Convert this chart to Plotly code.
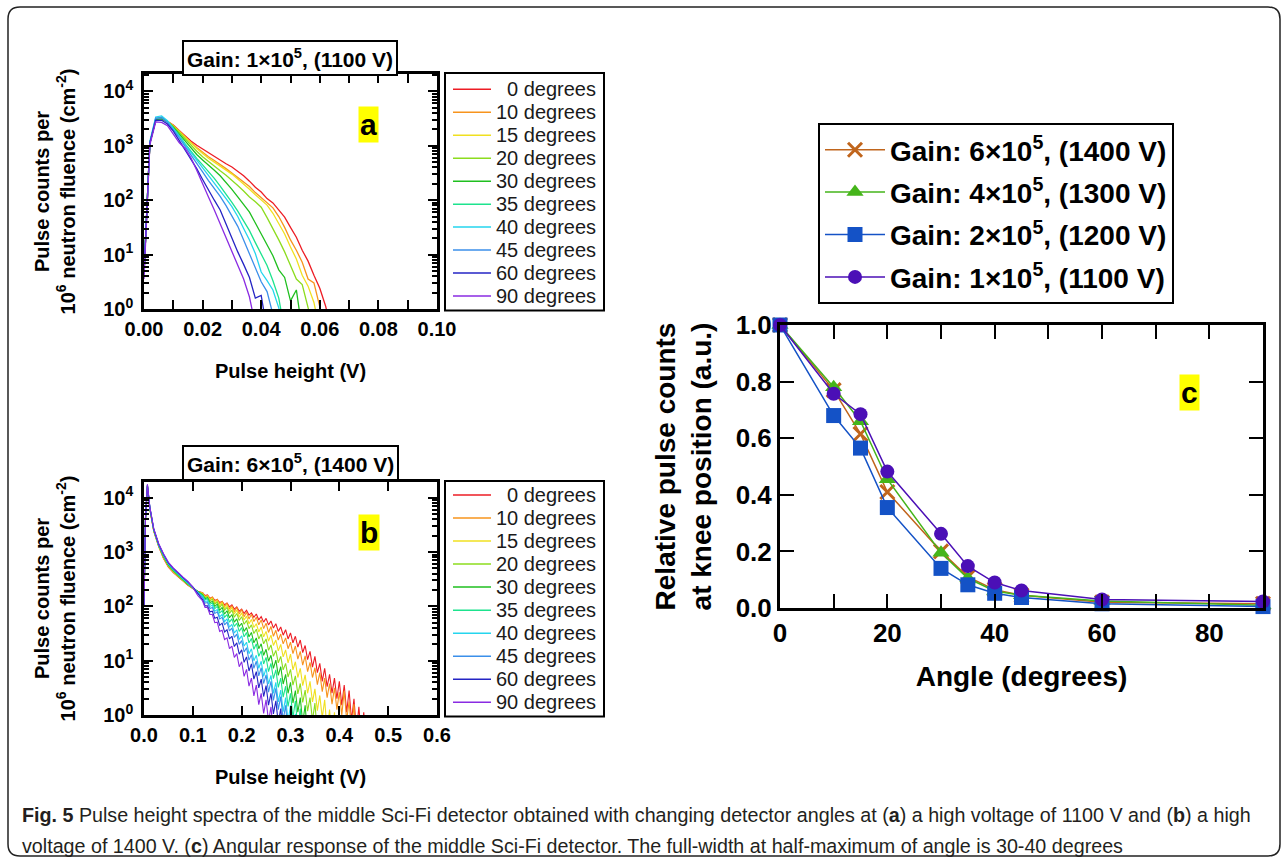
import plotly.graph_objects as go

W, H = 1287, 860
FONT = "Liberation Sans, Arial, sans-serif"

# ---------------- data ----------------
ANGLES = ["0", "10", "15", "20", "30", "35", "40", "45", "60", "90"]

# Panel a (1100 V): pulse height grid (V) and log10(counts)
PH_A = [0.000, 0.002, 0.004, 0.006, 0.008, 0.010, 0.012, 0.014, 0.016, 0.018, 0.020,
        0.022, 0.024, 0.026, 0.028, 0.030, 0.032, 0.034, 0.036, 0.038, 0.040, 0.042,
        0.044, 0.046, 0.048, 0.050, 0.052, 0.054, 0.056, 0.058, 0.060, 0.062, 0.064]
A_0 = [0.65, 3.05, 3.48, 3.50, 3.45, 3.38, 3.28, 3.18, 3.09, 3.01, 2.94, 2.87, 2.80, 2.74, 2.67,
       2.61, 2.53, 2.45, 2.35, 2.24, 2.15, 2.03, 1.95, 1.83, 1.69, 1.50, 1.32, 1.08, 0.88, 0.62,
       0.38, 0.05, -0.4]
A_10 = [0.65, 3.05, 3.47, 3.49, 3.45, 3.37, 3.27, 3.16, 3.06, 2.97, 2.88, 2.80, 2.73, 2.66, 2.58,
        2.50, 2.42, 2.34, 2.25, 2.14, 2.05, 1.96, 1.86, 1.70, 1.50, 1.27, 1.08, 0.86, 0.55, 0.48,
        0.05, -0.4]
A_15 = [0.65, 3.05, 3.47, 3.49, 3.45, 3.37, 3.27, 3.16, 3.05, 2.95, 2.86, 2.77, 2.70, 2.63, 2.56,
        2.48, 2.39, 2.30, 2.20, 2.10, 2.01, 1.91, 1.76, 1.58, 1.38, 1.14, 0.92, 0.62, 0.42, 0.12,
        -0.4]
A_20 = [0.65, 3.05, 3.47, 3.50, 3.45, 3.36, 3.25, 3.13, 3.01, 2.90, 2.80, 2.71, 2.62, 2.54, 2.46,
        2.37, 2.27, 2.17, 2.06, 1.97, 1.87, 1.68, 1.48, 1.27, 1.05, 0.80, 0.55, 0.45, 0.05, -0.4]
A_30 = [0.65, 3.05, 3.48, 3.50, 3.44, 3.34, 3.22, 3.09, 2.96, 2.84, 2.74, 2.65, 2.55, 2.45, 2.33,
        2.20, 2.06, 1.93, 1.78, 1.58, 1.38, 1.18, 0.98, 0.72, 0.58, 0.15, 0.35, -0.4]
A_35 = [0.65, 3.05, 3.50, 3.52, 3.45, 3.33, 3.19, 3.04, 2.90, 2.77, 2.65, 2.53, 2.40, 2.26, 2.12,
        1.96, 1.80, 1.62, 1.44, 1.22, 1.02, 0.80, 0.52, 0.20, -0.4]
A_40 = [0.65, 3.08, 3.53, 3.55, 3.46, 3.33, 3.18, 3.02, 2.88, 2.74, 2.61, 2.46, 2.32, 2.17, 2.03,
        1.88, 1.70, 1.48, 1.27, 1.02, 0.68, 0.52, 0.35, 0.02, -0.4]
A_45 = [0.65, 3.05, 3.51, 3.52, 3.43, 3.30, 3.15, 2.99, 2.84, 2.68, 2.52, 2.36, 2.22, 2.07, 1.90,
        1.72, 1.52, 1.27, 1.02, 0.75, 0.50, 0.32, -0.1, -0.4]
A_60 = [0.65, 3.05, 3.47, 3.47, 3.40, 3.27, 3.10, 2.93, 2.76, 2.58, 2.38, 2.18, 2.00, 1.82, 1.56,
        1.28, 1.05, 0.82, 0.58, 0.20, 0.25, -0.4]
A_90 = [0.55, 3.02, 3.44, 3.43, 3.37, 3.22, 3.06, 2.95, 2.78, 2.55, 2.32, 2.06, 1.82, 1.56, 1.30,
        1.06, 0.80, 0.55, 0.22, -0.3]

# Panel b (1400 V): pulse height grid (V) and log10(counts)
PH_B = [0.0, 0.003, 0.007, 0.012, 0.02, 0.03, 0.04, 0.05, 0.06, 0.07, 0.08, 0.09, 0.10, 0.11,
        0.120, 0.125, 0.130, 0.135, 0.140, 0.145, 0.150, 0.155, 0.160, 0.165, 0.170, 0.175,
        0.180, 0.185, 0.190, 0.195, 0.200, 0.205, 0.210, 0.215, 0.220, 0.225, 0.230, 0.235,
        0.240, 0.245, 0.250, 0.255, 0.260, 0.265, 0.270, 0.275, 0.280, 0.285, 0.290, 0.295,
        0.300, 0.305, 0.310, 0.315, 0.320, 0.325, 0.330, 0.335, 0.340, 0.345, 0.350, 0.355,
        0.360, 0.365, 0.370, 0.375, 0.380, 0.385, 0.390, 0.395, 0.400, 0.405, 0.410, 0.415,
        0.420, 0.425, 0.430, 0.435, 0.440, 0.445, 0.450, 0.455, 0.460, 0.465, 0.470]
B_0 = [2.0, 3.58, 4.20, 3.78, 3.38, 3.10, 2.88, 2.72, 2.62, 2.54, 2.46, 2.39, 2.33, 2.28,
       2.25, 2.20, 2.21, 2.15, 2.17, 2.11, 2.13, 2.07, 2.09, 2.03, 2.06, 1.99, 2.03, 1.95, 1.99,
       1.91, 1.95, 1.87, 1.93, 1.84, 1.88, 1.80, 1.86, 1.75, 1.81, 1.71, 1.78, 1.66, 1.73, 1.60,
       1.68, 1.54, 1.62, 1.47, 1.57, 1.40, 1.51, 1.33, 1.45, 1.25, 1.38, 1.15, 1.28, 1.02, 1.17,
       0.88, 1.08, 0.78, 0.95, 0.62, 0.86, 0.52, 0.75, 0.40, 0.68, 0.30, 0.62, 0.18, 0.55, 0.05,
       0.45, -0.1, 0.30, -0.3, 0.15, -0.4, 0.05, -0.5, 0.0, -0.6]
B_10 = [2.0, 3.59, 4.21, 3.79, 3.39, 3.11, 2.89, 2.73, 2.63, 2.55, 2.47, 2.40, 2.33, 2.27,
        2.25, 2.18, 2.20, 2.14, 2.17, 2.09, 2.13, 2.05, 2.09, 2.00, 2.06, 1.95, 2.01, 1.90, 1.98,
        1.86, 1.94, 1.81, 1.89, 1.77, 1.85, 1.72, 1.80, 1.66, 1.75, 1.59, 1.69, 1.52, 1.63, 1.45,
        1.56, 1.38, 1.49, 1.31, 1.42, 1.22, 1.34, 1.13, 1.27, 1.03, 1.17, 0.92, 1.09, 0.80, 0.97,
        0.69, 0.87, 0.56, 0.78, 0.43, 0.68, 0.32, 0.58, 0.20, 0.50, 0.10, 0.42, 0.0, 0.45, -0.1,
        0.25, -0.3, 0.20, -0.5, 0.0, -0.6]
B_15 = [2.0, 3.59, 4.21, 3.79, 3.39, 3.11, 2.90, 2.74, 2.64, 2.55, 2.47, 2.40, 2.33, 2.27,
        2.24, 2.17, 2.19, 2.12, 2.15, 2.06, 2.10, 2.01, 2.07, 1.96, 2.02, 1.91, 1.98, 1.86, 1.93,
        1.80, 1.88, 1.75, 1.82, 1.68, 1.76, 1.61, 1.68, 1.53, 1.62, 1.44, 1.54, 1.36, 1.47, 1.28,
        1.38, 1.18, 1.30, 1.07, 1.20, 0.96, 1.12, 0.83, 0.98, 0.69, 0.86, 0.54, 0.74, 0.40, 0.62,
        0.24, 0.48, 0.08, 0.36, -0.05, 0.28, -0.3, 0.10, -0.5, 0.05, -0.6]
B_20 = [2.0, 3.60, 4.22, 3.80, 3.40, 3.12, 2.91, 2.75, 2.65, 2.56, 2.48, 2.40, 2.33, 2.27,
        2.23, 2.16, 2.18, 2.10, 2.13, 2.04, 2.08, 1.98, 2.04, 1.93, 1.98, 1.87, 1.93, 1.80, 1.87,
        1.74, 1.81, 1.67, 1.74, 1.59, 1.66, 1.50, 1.58, 1.40, 1.49, 1.31, 1.40, 1.19, 1.29, 1.08,
        1.19, 0.96, 1.08, 0.83, 0.95, 0.70, 0.84, 0.55, 0.72, 0.39, 0.58, 0.23, 0.46, 0.07, 0.32,
        -0.1, 0.22, -0.35, 0.0, -0.6]
B_30 = [2.0, 3.60, 4.22, 3.80, 3.40, 3.12, 2.92, 2.76, 2.66, 2.57, 2.49, 2.41, 2.34, 2.27,
        2.21, 2.14, 2.16, 2.07, 2.09, 2.00, 2.04, 1.93, 1.98, 1.86, 1.92, 1.79, 1.85, 1.71, 1.77,
        1.63, 1.69, 1.54, 1.61, 1.44, 1.52, 1.33, 1.42, 1.22, 1.31, 1.10, 1.21, 0.99, 1.10, 0.86,
        1.01, 0.73, 0.89, 0.57, 0.75, 0.40, 0.60, 0.22, 0.45, 0.05, 0.32, -0.15, 0.18, -0.4, 0.0,
        -0.6]
B_35 = [2.0, 3.61, 4.22, 3.81, 3.41, 3.13, 2.93, 2.77, 2.67, 2.58, 2.50, 2.42, 2.34, 2.26,
        2.20, 2.12, 2.14, 2.04, 2.06, 1.96, 2.00, 1.88, 1.92, 1.80, 1.85, 1.71, 1.77, 1.63, 1.69,
        1.54, 1.61, 1.44, 1.52, 1.33, 1.41, 1.21, 1.31, 1.08, 1.18, 0.94, 1.06, 0.80, 0.95, 0.67,
        0.83, 0.51, 0.68, 0.33, 0.53, 0.16, 0.40, -0.05, 0.26, -0.25, 0.12, -0.5, 0.0, -0.6]
B_40 = [2.0, 3.61, 4.23, 3.81, 3.41, 3.13, 2.94, 2.78, 2.68, 2.59, 2.51, 2.43, 2.35, 2.26,
        2.18, 2.09, 2.10, 2.00, 2.02, 1.91, 1.94, 1.81, 1.85, 1.72, 1.77, 1.62, 1.67, 1.51, 1.57,
        1.39, 1.46, 1.27, 1.34, 1.13, 1.22, 1.00, 1.10, 0.86, 0.99, 0.71, 0.86, 0.57, 0.73, 0.40,
        0.60, 0.24, 0.46, 0.06, 0.32, -0.12, 0.18, -0.4, 0.02, -0.6]
B_45 = [2.0, 3.62, 4.23, 3.82, 3.42, 3.14, 2.95, 2.79, 2.69, 2.60, 2.52, 2.44, 2.35, 2.25,
        2.16, 2.06, 2.07, 1.96, 1.98, 1.87, 1.90, 1.77, 1.80, 1.66, 1.71, 1.55, 1.60, 1.43, 1.49,
        1.30, 1.37, 1.16, 1.24, 1.01, 1.11, 0.86, 0.99, 0.72, 0.87, 0.58, 0.74, 0.42, 0.62, 0.27,
        0.49, 0.10, 0.34, -0.1, 0.18, -0.35, 0.03, -0.6]
B_60 = [2.0, 3.62, 4.24, 3.82, 3.42, 3.15, 2.96, 2.80, 2.70, 2.61, 2.53, 2.45, 2.36, 2.24,
        2.12, 2.01, 2.01, 1.90, 1.91, 1.78, 1.80, 1.65, 1.69, 1.53, 1.57, 1.40, 1.45, 1.26, 1.33,
        1.12, 1.20, 0.97, 1.07, 0.81, 0.94, 0.66, 0.80, 0.50, 0.66, 0.34, 0.54, 0.18, 0.40, 0.02,
        0.26, -0.15, 0.12, -0.4, -0.02, -0.6]
B_90 = [2.0, 3.63, 4.25, 3.83, 3.43, 3.16, 2.97, 2.81, 2.71, 2.62, 2.54, 2.46, 2.35, 2.20,
        2.10, 1.98, 1.98, 1.85, 1.85, 1.70, 1.71, 1.54, 1.56, 1.39, 1.42, 1.22, 1.27, 1.06, 1.13,
        0.89, 0.98, 0.71, 0.84, 0.53, 0.68, 0.35, 0.55, 0.19, 0.40, 0.03, 0.28, -0.12, 0.15,
        -0.35, 0.0, -0.6]

# Panel c: relative pulse counts at knee position vs angle
ANGLE_C = [0, 10, 15, 20, 30, 35, 40, 45, 60, 90]
C_6E5 = [1.0, 0.77, 0.615, 0.41, 0.20, 0.11, 0.065, 0.045, 0.020, 0.015]
C_4E5 = [1.0, 0.78, 0.660, 0.455, 0.195, 0.105, 0.060, 0.045, 0.025, 0.010]
C_2E5 = [1.0, 0.68, 0.565, 0.355, 0.140, 0.082, 0.052, 0.037, 0.015, 0.005]
C_1E5 = [1.0, 0.757, 0.685, 0.482, 0.262, 0.148, 0.090, 0.062, 0.030, 0.023]
GAIN_NAMES = ["Gain: 6×10<sup>5</sup>, (1400 V)", "Gain: 4×10<sup>5</sup>, (1300 V)",
              "Gain: 2×10<sup>5</sup>, (1200 V)", "Gain: 1×10<sup>5</sup>, (1100 V)"]

# ---------------- styling ----------------
COLORS = ["#ED1C24", "#F7941D", "#F0E020", "#8CDC1E", "#1FBF1F", "#1DE38E",
          "#25D5EE", "#3B8FEA", "#2424C4", "#8A2BE2"]
C_COLORS = ["#C0651C", "#45B51A", "#1452C6", "#4B0FB6"]
C_SYMBOLS = ["x-thin", "triangle-up", "square", "circle"]


def fx(p):
    return p / W


def fy(p):
    return 1 - p / H


fig = go.Figure()

A_SERIES = [A_0, A_10, A_15, A_20, A_30, A_35, A_40, A_45, A_60, A_90]
B_SERIES = [B_0, B_10, B_15, B_20, B_30, B_35, B_40, B_45, B_60, B_90]

for ang, col, ys in zip(ANGLES, COLORS, A_SERIES):
    fig.add_trace(go.Scatter(x=PH_A[:len(ys)], y=[10 ** v for v in ys], mode="lines",
                             line=dict(color=col, width=1.3), name=ang + " degrees",
                             showlegend=False, xaxis="x", yaxis="y", hoverinfo="skip"))
for ang, col, ys in zip(ANGLES, COLORS, B_SERIES):
    fig.add_trace(go.Scatter(x=PH_B[:len(ys)], y=[10 ** v for v in ys], mode="lines",
                             line=dict(color=col, width=1.1), name=ang + " degrees",
                             showlegend=False, xaxis="x2", yaxis="y2", hoverinfo="skip"))

for i, (nm, col, sym, ys) in enumerate(zip(GAIN_NAMES, C_COLORS, C_SYMBOLS,
                                            [C_6E5, C_4E5, C_2E5, C_1E5])):
    if sym == "x-thin":
        mk = dict(symbol=sym, size=14, line=dict(width=3, color=col), color=col)
    else:
        mk = dict(symbol=sym, size=15 if sym != "circle" else 14, color=col,
                  line=dict(width=0))
    fig.add_trace(go.Scatter(x=ANGLE_C, y=ys, mode="lines+markers", name=nm,
                             line=dict(color=col, width=1.5), marker=mk,
                             legendgroup="g%d" % i, cliponaxis=False,
                             xaxis="x3", yaxis="y3"))


def axis(size, ticklen):
    return dict(showline=True, linecolor="black", linewidth=2.5, mirror="ticks",
                ticks="inside", ticklen=ticklen, tickwidth=2, tickcolor="black",
                showgrid=False, zeroline=False,
                tickfont=dict(family=FONT, size=size, color="black", weight="bold"))


TFONT = dict(family=FONT, size=20, color="black", weight="bold")
CFONT = dict(family=FONT, size=28, color="black", weight="bold")

LOG_TICKS = [1, 10, 100, 1000, 10000]
LOG_TEXT = ["10<sup>0</sup>", "10<sup>1</sup>", "10<sup>2</sup>", "10<sup>3</sup>",
            "10<sup>4</sup>"]
LOG_MINOR = [k * 10 ** n for n in range(0, 5) for k in range(2, 10)]
YTITLE = "Pulse counts per<br>10<sup>6</sup> neutron fluence (cm<sup>-2</sup>)"

ya = axis(20, 9)
ya.update(type="log", range=[0, 4.32], tickvals=LOG_TICKS, ticktext=LOG_TEXT,
          domain=[fy(309), fy(74)], anchor="x", ticklabelstandoff=4,
          minor=dict(tickvals=LOG_MINOR, ticks="inside", ticklen=5, tickwidth=1.5,
                     tickcolor="black", showgrid=False),
          title=dict(text=YTITLE, font=TFONT, standoff=23))
xa = axis(20, 9)
xa.update(range=[0, 0.1], tick0=0, dtick=0.02, tickformat=".2f",
          domain=[fx(144), fx(437)], anchor="y",
          minor=dict(tick0=0, dtick=0.01, ticks="inside", ticklen=9, tickwidth=2,
                     tickcolor="black", showgrid=False),
          title=dict(text="Pulse height (V)", font=TFONT, standoff=26))

yb = axis(20, 9)
yb.update(type="log", range=[0, 4.29], tickvals=LOG_TICKS, ticktext=LOG_TEXT,
          domain=[fy(715), fy(482)], anchor="x2", ticklabelstandoff=4,
          minor=dict(tickvals=LOG_MINOR, ticks="inside", ticklen=5, tickwidth=1.5,
                     tickcolor="black", showgrid=False),
          title=dict(text=YTITLE, font=TFONT, standoff=23))
xb = axis(20, 9)
xb.update(range=[0, 0.6], tick0=0, dtick=0.1, tickformat=".1f",
          domain=[fx(144), fx(437)], anchor="y2",
          title=dict(text="Pulse height (V)", font=TFONT, standoff=26))

yc = axis(26, 14)
yc.update(range=[0, 1.0], tick0=0, dtick=0.2, tickformat=".1f", linewidth=3,
          domain=[fy(608), fy(325)], anchor="x3",
          title=dict(text="Relative pulse counts<br>at knee position (a.u.)",
                     font=CFONT, standoff=16))
xc = axis(26, 14)
xc.update(range=[0, 90], tick0=0, dtick=20, linewidth=3,
          domain=[fx(780), fx(1263)], anchor="y3",
          minor=dict(tick0=0, dtick=10, ticks="inside", ticklen=14, tickwidth=2,
                     tickcolor="black", showgrid=False),
          title=dict(text="Angle (degrees)", font=CFONT, standoff=20))

# ---------------- annotations & shapes ----------------
ann = []
shapes = []


def box_title(text, xc_, yc_):
    ann.append(dict(text=text, x=fx(xc_), y=fy(yc_), xref="paper", yref="paper",
                    xanchor="center", yanchor="middle", showarrow=False,
                    font=dict(family=FONT, size=21, color="black", weight="bold"),
                    bordercolor="black", borderwidth=2, borderpad=3, bgcolor="white"))


box_title("Gain: 1×10<sup>5</sup>, (1100 V)", 290, 58)
box_title("Gain: 6×10<sup>5</sup>, (1400 V)", 290, 463)


def letter(t, xc_, yc_):
    ann.append(dict(text=t, x=fx(xc_), y=fy(yc_), xref="paper", yref="paper",
                    xanchor="center", yanchor="middle", showarrow=False,
                    bgcolor="#FFFF00", borderpad=1,
                    font=dict(family=FONT, size=30, color="black", weight="bold")))


letter("a", 368, 124.5)
letter("b", 368.5, 532)
letter("c", 1189, 392.5)


def angle_legend(top, bottom, first_row, step):
    shapes.append(dict(type="rect", xref="paper", yref="paper", x0=fx(445), x1=fx(604),
                       y0=fy(bottom), y1=fy(top), line=dict(color="black", width=2),
                       fillcolor="white", layer="above"))
    for i, (ang, col) in enumerate(zip(ANGLES, COLORS)):
        yy = first_row + step * i
        shapes.append(dict(type="line", xref="paper", yref="paper", x0=fx(453), x1=fx(491),
                           y0=fy(yy), y1=fy(yy), line=dict(color=col, width=1.5),
                           layer="above"))
        ann.append(dict(text=ang + " degrees", x=fx(598), y=fy(yy), xref="paper",
                        yref="paper", xanchor="right", yanchor="middle", showarrow=False,
                        font=dict(family=FONT, size=20, color="#1a1a1a")))


angle_legend(73, 310.5, 89.3, 22.97)
angle_legend(481, 716.5, 495.0, 23.03)

# caption
CAP = dict(family=FONT, size=19.7, color="#231f20")
ann.append(dict(text="<b>Fig. 5</b> Pulse height spectra of the middle Sci-Fi detector obtained "
                     "with changing detector angles at (<b>a</b>) a high voltage of 1100 V and "
                     "(<b>b</b>) a high",
                x=fx(20), y=fy(815), xref="paper", yref="paper", xanchor="left",
                yanchor="middle", showarrow=False, font=CAP))
ann.append(dict(text="voltage of 1400 V. (<b>c</b>) Angular response of the middle Sci-Fi "
                     "detector. The full-width at half-maximum of angle is 30-40 degrees",
                x=fx(20), y=fy(846), xref="paper", yref="paper", xanchor="left",
                yanchor="middle", showarrow=False, font=CAP))

# rounded outer frame
r = 12
L, R, T, B = 8, 1280, 7, 856


def P(x, y):
    return "%.6f,%.6f" % (fx(x), fy(y))


frame = ("M" + P(L + r, T) + " L" + P(R - r, T) + " Q" + P(R, T) + " " + P(R, T + r) +
         " L" + P(R, B - r) + " Q" + P(R, B) + " " + P(R - r, B) +
         " L" + P(L + r, B) + " Q" + P(L, B) + " " + P(L, B - r) +
         " L" + P(L, T + r) + " Q" + P(L, T) + " " + P(L + r, T) + " Z")
shapes.append(dict(type="path", xref="paper", yref="paper", path=frame,
                   line=dict(color="#222222", width=1.5), layer="below"))

fig.update_layout(
    width=W, height=H, autosize=False, template="none",
    margin=dict(l=0, r=0, t=0, b=0),
    paper_bgcolor="white", plot_bgcolor="white",
    xaxis=xa, yaxis=ya, xaxis2=xb, yaxis2=yb, xaxis3=xc, yaxis3=yc,
    annotations=ann, shapes=shapes,
    showlegend=True,
    legend=dict(x=fx(818), y=fy(123), xanchor="left", yanchor="top",
                bordercolor="black", borderwidth=2, bgcolor="white",
                font=dict(family=FONT, size=28, color="black", weight="bold"),
                tracegroupgap=3, itemwidth=60, traceorder="grouped"),
)

fig.write_html("out.html", config={"displayModeBar": False},
               post_script="document.body.style.margin='0px';"
                           "document.body.style.overflow='hidden';"
                           "document.documentElement.style.overflow='hidden';")
